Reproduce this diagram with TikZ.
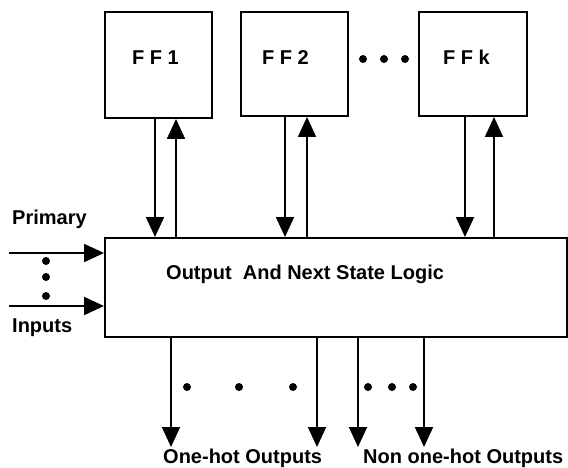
\documentclass[tikz,border=0pt]{standalone}
\usepackage{fontspec}
\setmainfont{Liberation Sans}
\usetikzlibrary{arrows.meta}
\begin{document}
\begin{tikzpicture}[x=1pt,y=-1pt,
  box/.style={draw, line width=2pt, inner sep=0pt, anchor=north west},
  lbl/.style={inner sep=0pt, anchor=base west, font=\fontsize{20}{24}\selectfont\bfseries},
  arr/.style={line width=2pt, -{Triangle[width=18pt,length=20pt]}},
  ln/.style={line width=2pt},
  dot/.style={fill, circle, inner sep=0pt, minimum size=8pt}]
\useasboundingbox (0,0) rectangle (568,468);
% flip-flops
\node[box, minimum width=107pt, minimum height=106pt] (ff1) at (104,11) {};
\node[box, minimum width=107pt, minimum height=104pt] (ff2) at (240,11) {};
\node[box, minimum width=108pt, minimum height=104pt] (ffk) at (418,11) {};
\node[lbl] (t1) at (132,65) {F F 1};
\node[lbl] (t2) at (262,65) {F F 2};
\node[lbl] (tk) at (443,65) {F F k};
\node[dot] (d1) at (363,59) {};
\node[dot] (d2) at (384,59) {};
\node[dot] (d3) at (405,59) {};
% logic block
\node[box, minimum width=462pt, minimum height=99pt] (logic) at (104,237) {};
\node[lbl] (tl) at (166,279) {Output\ \ And Next State Logic};
% FF connections
\draw[arr] (155,0 |- ff1.south) -- (155,0 |- logic.north);
\draw[arr] (176,0 |- logic.north) -- (176,0 |- ff1.south);
\draw[arr] (285,0 |- ff2.south) -- (285,0 |- logic.north);
\draw[arr] (307,0 |- logic.north) -- (307,0 |- ff2.south);
\draw[arr] (465,0 |- ffk.south) -- (465,0 |- logic.north);
\draw[arr] (494,0 |- logic.north) -- (494,0 |- ffk.south);
% inputs
\coordinate (i1) at (9,253);
\coordinate (i2) at (9,306);
\draw[arr] (i1) -- (i1 -| logic.west);
\draw[arr] (i2) -- (i2 -| logic.west);
\node[dot] (e1) at (46,261) {};
\node[dot] (e2) at (46,277) {};
\node[dot] (e3) at (46,296) {};
\node[lbl] (tp) at (12,225) {Primary};
\node[lbl] (ti) at (12,332) {Inputs};
% outputs
\coordinate (o1) at (171,447);
\coordinate (o2) at (317,447);
\coordinate (o3) at (358,447);
\coordinate (o4) at (424,447);
\draw[arr] (o1 |- logic.south) -- (o1);
\draw[arr] (o2 |- logic.south) -- (o2);
\draw[arr] (o3 |- logic.south) -- (o3);
\draw[arr] (o4 |- logic.south) -- (o4);
\node[dot] (f1) at (187,387) {};
\node[dot] (f2) at (239,387) {};
\node[dot] (f3) at (293,387) {};
\node[dot] (g1) at (368,387) {};
\node[dot] (g2) at (392,387) {};
\node[dot] (g3) at (413,387) {};
\node[lbl] (to1) at (163,463) {One-hot Outputs};
\node[lbl] (to2) at (363,463) {Non one-hot Outputs};
\end{tikzpicture}
\end{document}
